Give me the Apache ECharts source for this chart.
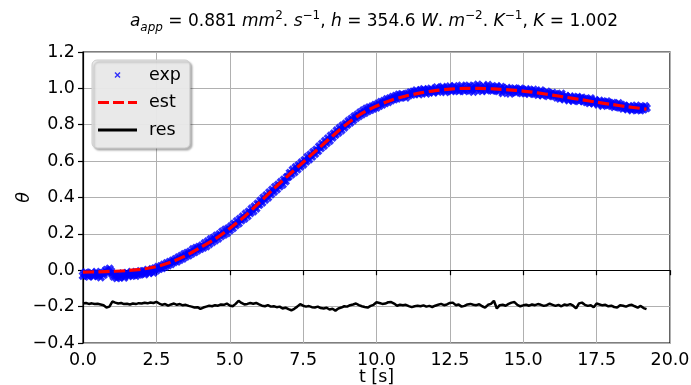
<!DOCTYPE html>
<html><head><meta charset="utf-8">
<script src="https://cdn.jsdelivr.net/npm/echarts@6/dist/echarts.min.js"></script>
<style>html,body{margin:0;padding:0;background:#fff}#c{width:691px;height:385px}</style>
</head><body><div id="c"></div>
<script>
// exp sample times [s]
const tExp = [
0,0.05,0.1,0.15,0.2,0.25,0.3,0.35,0.4,0.45,0.5,0.55,0.6,0.65,0.7,0.75,0.8,0.85,0.9,0.95,
1,1.05,1.1,1.15,1.2,1.25,1.3,1.35,1.4,1.45,1.5,1.55,1.6,1.65,1.7,1.75,1.8,1.85,1.9,1.95,
2,2.05,2.1,2.15,2.2,2.25,2.3,2.35,2.4,2.45,2.5,2.55,2.6,2.65,2.7,2.75,2.8,2.85,2.9,2.95,
3,3.05,3.1,3.15,3.2,3.25,3.3,3.35,3.4,3.45,3.5,3.55,3.6,3.65,3.7,3.75,3.8,3.85,3.9,3.95,
4,4.05,4.1,4.15,4.2,4.25,4.3,4.35,4.4,4.45,4.5,4.55,4.6,4.65,4.7,4.75,4.8,4.85,4.9,4.95,
5,5.05,5.1,5.15,5.2,5.25,5.3,5.35,5.4,5.45,5.5,5.55,5.6,5.65,5.7,5.75,5.8,5.85,5.9,5.95,
6,6.05,6.1,6.15,6.2,6.25,6.3,6.35,6.4,6.45,6.5,6.55,6.6,6.65,6.7,6.75,6.8,6.85,6.9,6.95,
7,7.05,7.1,7.15,7.2,7.25,7.3,7.35,7.4,7.45,7.5,7.55,7.6,7.65,7.7,7.75,7.8,7.85,7.9,7.95,
8,8.05,8.1,8.15,8.2,8.25,8.3,8.35,8.4,8.45,8.5,8.55,8.6,8.65,8.7,8.75,8.8,8.85,8.9,8.95,
9,9.05,9.1,9.15,9.2,9.25,9.3,9.35,9.4,9.45,9.5,9.55,9.6,9.65,9.7,9.75,9.8,9.85,9.9,9.95,
10,10.05,10.1,10.15,10.2,10.25,10.3,10.35,10.4,10.45,10.5,10.55,10.6,10.65,10.7,10.75,10.8,10.85,10.9,10.95,
11,11.05,11.1,11.15,11.2,11.25,11.3,11.35,11.4,11.45,11.5,11.55,11.6,11.65,11.7,11.75,11.8,11.85,11.9,11.95,
12,12.05,12.1,12.15,12.2,12.25,12.3,12.35,12.4,12.45,12.5,12.55,12.6,12.65,12.7,12.75,12.8,12.85,12.9,12.95,
13,13.05,13.1,13.15,13.2,13.25,13.3,13.35,13.4,13.45,13.5,13.55,13.6,13.65,13.7,13.75,13.8,13.85,13.9,13.95,
14,14.05,14.1,14.15,14.2,14.25,14.3,14.35,14.4,14.45,14.5,14.55,14.6,14.65,14.7,14.75,14.8,14.85,14.9,14.95,
15,15.05,15.1,15.15,15.2,15.25,15.3,15.35,15.4,15.45,15.5,15.55,15.6,15.65,15.7,15.75,15.8,15.85,15.9,15.95,
16,16.05,16.1,16.15,16.2,16.25,16.3,16.35,16.4,16.45,16.5,16.55,16.6,16.65,16.7,16.75,16.8,16.85,16.9,16.95,
17,17.05,17.1,17.15,17.2,17.25,17.3,17.35,17.4,17.45,17.5,17.55,17.6,17.65,17.7,17.75,17.8,17.85,17.9,17.95,
18,18.05,18.1,18.15,18.2,18.25,18.3,18.35,18.4,18.45,18.5,18.55,18.6,18.65,18.7,18.75,18.8,18.85,18.9,18.95,
19,19.05,19.1,19.15,19.2
];
// measured theta (exp)
const expValues = [
-0.030,-0.018,-0.012,-0.028,-0.035,-0.022,-0.015,-0.032,-0.025,-0.010,-0.030,-0.020,-0.038,-0.015,-0.025,-0.008,0.002,-0.012,0.008,-0.005,
-0.020,-0.035,-0.028,-0.042,-0.025,-0.038,-0.030,-0.018,-0.040,-0.026,-0.015,-0.032,-0.022,-0.010,-0.028,-0.018,-0.030,-0.012,-0.024,-0.006,
-0.018,-0.005,-0.022,-0.010,0.002,-0.015,-0.008,0.005,-0.012,0.010,0.000,0.018,0.008,0.022,0.012,0.030,0.020,0.038,0.028,0.045,
0.035,0.052,0.045,0.060,0.048,0.070,0.058,0.078,0.065,0.088,0.075,0.095,0.082,0.102,0.092,0.115,0.100,0.122,0.110,0.128,
0.118,0.135,0.125,0.148,0.132,0.158,0.145,0.170,0.155,0.178,0.165,0.190,0.175,0.198,0.188,0.212,0.196,0.222,0.205,0.230,
0.220,0.242,0.232,0.255,0.248,0.270,0.258,0.282,0.275,0.295,0.285,0.310,0.298,0.322,0.315,0.338,0.325,0.350,0.340,0.365,
0.360,0.382,0.372,0.398,0.388,0.412,0.400,0.428,0.418,0.442,0.432,0.458,0.446,0.470,0.462,0.485,0.472,0.498,0.490,0.512,
0.515,0.535,0.528,0.552,0.540,0.566,0.555,0.578,0.570,0.592,0.582,0.605,0.598,0.622,0.610,0.635,0.625,0.650,0.640,0.662,
0.655,0.680,0.672,0.695,0.685,0.710,0.700,0.725,0.712,0.740,0.730,0.752,0.745,0.768,0.758,0.782,0.770,0.795,0.785,0.805,
0.800,0.820,0.812,0.832,0.825,0.845,0.838,0.855,0.848,0.868,0.858,0.878,0.866,0.888,0.875,0.895,0.882,0.900,0.890,0.908,
0.895,0.915,0.905,0.925,0.912,0.930,0.920,0.940,0.925,0.945,0.935,0.952,0.940,0.958,0.945,0.965,0.950,0.968,0.955,0.962,
0.950,0.970,0.962,0.978,0.966,0.982,0.972,0.988,0.975,0.968,0.990,0.978,0.995,0.982,0.972,0.992,0.980,0.998,0.985,0.978,
0.992,1.005,0.982,0.998,0.988,1.008,0.995,0.980,1.002,0.990,1.010,0.985,0.998,1.012,0.990,1.004,0.985,1.000,1.015,0.992,
0.985,1.008,0.995,1.015,0.990,1.002,0.982,1.010,0.998,1.020,0.992,1.005,0.985,1.012,1.000,0.990,1.018,0.995,1.008,0.988,
1.005,0.990,1.012,0.985,0.998,1.008,0.975,0.995,0.985,1.002,0.990,0.972,0.995,0.982,1.000,0.978,0.992,0.985,0.998,0.975,
0.990,0.975,0.995,0.980,0.970,0.988,0.978,0.992,0.970,0.982,0.965,0.978,0.988,0.962,0.975,0.968,0.982,0.958,0.972,0.965,
0.975,0.958,0.968,0.950,0.962,0.945,0.970,0.952,0.940,0.958,0.948,0.935,0.955,0.942,0.932,0.950,0.938,0.952,0.930,0.945,
0.948,0.930,0.942,0.925,0.938,0.920,0.945,0.928,0.918,0.935,0.925,0.912,0.932,0.918,0.905,0.925,0.912,0.928,0.908,0.920,
0.905,0.920,0.898,0.912,0.900,0.918,0.895,0.908,0.890,0.905,0.895,0.885,0.902,0.890,0.880,0.898,0.888,0.905,0.882,0.895,
0.880,0.898,0.885,0.902,0.892
];
// residual sample times [s]
const tRes = [
0,0.1,0.2,0.3,0.4,0.5,0.6,0.7,0.8,0.9,
1,1.1,1.2,1.3,1.4,1.5,1.6,1.7,1.8,1.9,
2,2.1,2.2,2.3,2.4,2.5,2.6,2.7,2.8,2.9,
3,3.1,3.2,3.3,3.4,3.5,3.6,3.7,3.8,3.9,
4,4.1,4.2,4.3,4.4,4.5,4.6,4.7,4.8,4.9,
5,5.1,5.2,5.3,5.4,5.5,5.6,5.7,5.8,5.9,
6,6.1,6.2,6.3,6.4,6.5,6.6,6.7,6.8,6.9,
7,7.1,7.2,7.3,7.4,7.5,7.6,7.7,7.8,7.9,
8,8.1,8.2,8.3,8.4,8.5,8.6,8.7,8.8,8.9,
9,9.1,9.2,9.3,9.4,9.5,9.6,9.7,9.8,9.9,
10,10.1,10.2,10.3,10.4,10.5,10.6,10.7,10.8,10.9,
11,11.1,11.2,11.3,11.4,11.5,11.6,11.7,11.8,11.9,
12,12.1,12.2,12.3,12.4,12.5,12.6,12.7,12.8,12.9,
13,13.1,13.2,13.3,13.4,13.5,13.6,13.7,13.8,13.9,
14,14.1,14.2,14.3,14.4,14.5,14.6,14.7,14.8,14.9,
15,15.1,15.2,15.3,15.4,15.5,15.6,15.7,15.8,15.9,
16,16.1,16.2,16.3,16.4,16.5,16.6,16.7,16.8,16.9,
17,17.1,17.2,17.3,17.4,17.5,17.6,17.7,17.8,17.9,
18,18.1,18.2,18.3,18.4,18.5,18.6,18.7,18.8,18.9,
19,19.1,19.2
];
// residual (shifted, as plotted)
const resValues = [
-0.183,-0.180,-0.185,-0.182,-0.186,-0.184,-0.188,-0.192,-0.205,-0.200,
-0.172,-0.178,-0.183,-0.180,-0.186,-0.184,-0.188,-0.183,-0.186,-0.181,
-0.183,-0.179,-0.182,-0.177,-0.180,-0.174,-0.183,-0.190,-0.186,-0.195,
-0.188,-0.183,-0.190,-0.186,-0.193,-0.190,-0.196,-0.200,-0.205,-0.203,
-0.212,-0.205,-0.200,-0.195,-0.198,-0.192,-0.195,-0.188,-0.190,-0.183,
-0.194,-0.198,-0.185,-0.168,-0.180,-0.188,-0.185,-0.180,-0.184,-0.180,
-0.188,-0.195,-0.198,-0.192,-0.200,-0.198,-0.203,-0.200,-0.210,-0.206,
-0.214,-0.220,-0.212,-0.200,-0.186,-0.195,-0.200,-0.197,-0.203,-0.205,
-0.200,-0.208,-0.210,-0.206,-0.216,-0.212,-0.222,-0.210,-0.205,-0.198,
-0.200,-0.192,-0.188,-0.183,-0.192,-0.198,-0.202,-0.205,-0.196,-0.190,
-0.176,-0.180,-0.185,-0.183,-0.176,-0.175,-0.183,-0.195,-0.190,-0.193,
-0.190,-0.197,-0.203,-0.198,-0.195,-0.198,-0.193,-0.200,-0.196,-0.202,
-0.195,-0.190,-0.185,-0.192,-0.188,-0.180,-0.178,-0.192,-0.188,-0.200,
-0.196,-0.188,-0.185,-0.190,-0.192,-0.187,-0.198,-0.205,-0.190,-0.185,
-0.168,-0.210,-0.192,-0.190,-0.195,-0.185,-0.178,-0.175,-0.190,-0.198,
-0.193,-0.190,-0.195,-0.188,-0.192,-0.186,-0.190,-0.196,-0.192,-0.184,
-0.190,-0.196,-0.190,-0.198,-0.188,-0.192,-0.186,-0.195,-0.210,-0.182,
-0.178,-0.190,-0.196,-0.192,-0.204,-0.183,-0.188,-0.193,-0.190,-0.198,
-0.195,-0.202,-0.205,-0.192,-0.195,-0.200,-0.193,-0.190,-0.198,-0.205,
-0.196,-0.208,-0.214
];
// estimated model curve (est)
const tEst = [0,0.5,1,1.5,2,2.5,3,3.5,4,4.5,5,5.5,6,6.5,7,7.5,8,8.5,9,9.5,10,10.5,11,11.5,12,12.5,13,13.5,14,14.5,15,15.5,16,16.5,17,17.5,18,18.5,19,19.2];
const estValues = [-0.010,-0.009,-0.006,-0.002,0.006,0.020,0.045,0.080,0.125,0.172,0.230,0.295,0.370,0.448,0.522,0.594,0.666,0.738,0.806,0.862,0.903,0.935,0.958,0.975,0.988,0.996,1.000,1.000,0.997,0.992,0.985,0.975,0.963,0.950,0.937,0.924,0.912,0.900,0.890,0.886];
const seriesNames = ['exp','est','res'];

const FONT = 'DejaVu Sans';
const MINUS = '\u2212';
const fmt = v => (v < -1e-9 ? MINUS : '') + Math.abs(v).toFixed(1);
const pairs = (xs, ys) => xs.map((x, i) => [x, ys[i]]);
const X_MARK = 'path://M1.6,0L6,4.4L4.4,6L0,1.6ZM4.4,0L6,1.6L1.6,6L0,4.4Z';

const chart = echarts.init(document.getElementById('c'), null, {renderer:'canvas'});
const base = {fontFamily:FONT, fontSize:17.5, color:'#000', fontWeight:'normal'};
chart.setOption({
  animation:false,
  backgroundColor:'#fff',
  title:{
    text:'{i|a}{sub|app}{n| = 0.881 }{i|mm}{sup|2}{n|. }{i|s}{sup|−1}{n|, }{i|h}{n| = 354.6 }{i|W}{n|. }{i|m}{sup|−2}{n|. }{i|K}{sup|−1}{n|, }{i|K}{n| = 1.002}',
    left:374, top:10, textAlign:'center', padding:0,
    textStyle:{ fontWeight:'normal', rich:{
      n:{fontFamily:FONT,fontSize:17,fontWeight:'normal',color:'#000',lineHeight:24},
      i:{fontFamily:FONT,fontSize:17,fontWeight:'normal',fontStyle:'italic',color:'#000',lineHeight:24},
      sup:{fontFamily:FONT,fontSize:12,fontWeight:'normal',color:'#000',verticalAlign:'top',lineHeight:13},
      sub:{fontFamily:FONT,fontSize:12,fontWeight:'normal',fontStyle:'italic',color:'#000',verticalAlign:'bottom',lineHeight:13}
    }}
  },
  legend:{
    orient:'vertical', left:92, top:60,
    padding:[6,9,9,6], itemGap:9.5, itemWidth:46, itemHeight:17,
    backgroundColor:'rgba(236,236,236,0.95)', borderColor:'#cccccc', borderWidth:1, borderRadius:5,
    shadowColor:'rgba(0,0,0,0.3)', shadowBlur:2, shadowOffsetX:2, shadowOffsetY:2,
    textStyle:{fontFamily:FONT,fontSize:17.5,color:'#000'},
    data:[
      {name:seriesNames[0], icon:'path://M0,0M46,17M17.5,5.5L22.5,10.5L21.5,11.5L16.5,6.5ZM21.5,5.5L22.5,6.5L17.5,11.5L16.5,10.5Z', itemStyle:{color:'#0000ff',borderWidth:0}},
      {name:seriesNames[1], icon:'path://M0,0M46,17M0,7L11,7L11,10L0,10ZM15,7L26,7L26,10L15,10ZM30,7L39,7L39,10L30,10Z', itemStyle:{color:'#ff0000',borderWidth:0}},
      {name:seriesNames[2], icon:'path://M0,0M46,17M0,7L39,7L39,10L0,10Z', itemStyle:{color:'#000000',borderWidth:0}}
    ]
  },
  grid:{left:83,right:21,top:52,bottom:42,show:true,borderColor:'#000',borderWidth:1.2,backgroundColor:'transparent',outerBoundsMode:'none',containLabel:false},
  xAxis:{
    type:'value', min:0, max:20, interval:2.5,
    name:'t [s]', nameLocation:'middle', nameGap:25, nameMoveOverlap:false, nameTextStyle:base,
    axisLine:{show:true,lineStyle:{color:'#000',width:1.2}},
    axisTick:{show:true,inside:false,length:5,lineStyle:{color:'#000',width:1.2}},
    axisLabel:{...base, margin:8, formatter:fmt},
    splitLine:{show:true,lineStyle:{color:'#b0b0b0',width:1}}
  },
  yAxis:{
    type:'value', min:-0.4, max:1.2, interval:0.2,
    name:'θ', nameLocation:'middle', nameGap:50, nameRotate:90, nameMoveOverlap:false, nameTextStyle:{...base,fontStyle:'italic'},
    axisLine:{show:true,lineStyle:{color:'#000',width:1.2}},
    axisTick:{show:true,inside:false,length:5,lineStyle:{color:'#000',width:1.2}},
    axisLabel:{...base, margin:8, formatter:fmt},
    splitLine:{show:true,lineStyle:{color:'#b0b0b0',width:1}}
  },
  series:[
    {name:seriesNames[0], type:'scatter', data:pairs(tExp,expValues), symbol:X_MARK, symbolSize:9, itemStyle:{color:'#0000ff'}, z:2},
    {name:seriesNames[1], type:'line', data:pairs(tEst,estValues), smooth:0.3, showSymbol:false, symbol:'none', itemStyle:{color:'#ff0000'}, lineStyle:{color:'#ff0000',width:3.2,type:[11,4.5]}, z:3},
    {name:seriesNames[2], type:'line', data:pairs(tRes,resValues), showSymbol:false, symbol:'none', itemStyle:{color:'#000'}, lineStyle:{color:'#000',width:2.5}, z:4}
  ]
});
</script>
</body></html>
